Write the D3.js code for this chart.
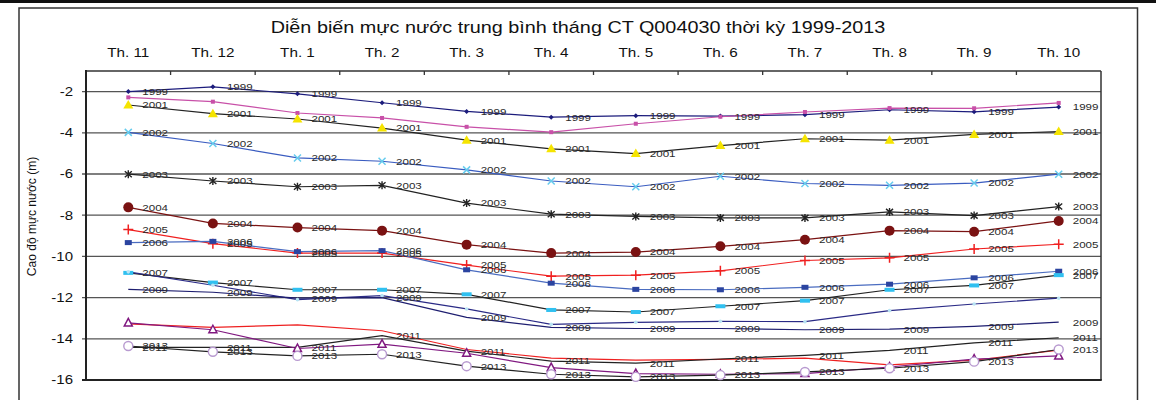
<!DOCTYPE html>
<html><head><meta charset="utf-8">
<script src="https://cdn.jsdelivr.net/npm/d3@7"></script>
<style>body{margin:0;background:#fff}svg{display:block}text{font-family:"Liberation Sans",Arial,sans-serif}</style>
</head><body><svg id="c" width="1156" height="400"></svg>
<script>
const months = ["Th. 11","Th. 12","Th. 1","Th. 2","Th. 3","Th. 4","Th. 5","Th. 6","Th. 7","Th. 8","Th. 9","Th. 10"];
const yTicks = [-2,-4,-6,-8,-10,-12,-14,-16];
const y1999 = [-2.00,-1.77,-2.11,-2.54,-2.96,-3.24,-3.17,-3.19,-3.12,-2.88,-2.98,-2.75];
const y2000 = [-2.28,-2.49,-3.04,-3.28,-3.71,-3.97,-3.56,-3.22,-2.99,-2.80,-2.81,-2.55];
const y2001 = [-2.65,-3.07,-3.33,-3.77,-4.36,-4.78,-5.01,-4.62,-4.29,-4.36,-4.08,-3.94];
const y2002 = [-3.98,-4.52,-5.22,-5.38,-5.80,-6.34,-6.62,-6.11,-6.46,-6.55,-6.44,-6.01];
const y2003 = [-6.01,-6.34,-6.62,-6.55,-7.41,-7.95,-8.06,-8.13,-8.13,-7.84,-8.02,-7.58];
const y2004 = [-7.62,-8.40,-8.60,-8.75,-9.43,-9.84,-9.79,-9.51,-9.19,-8.75,-8.80,-8.28];
const y2005 = [-8.70,-9.38,-9.84,-9.84,-10.42,-10.96,-10.91,-10.70,-10.20,-10.07,-9.64,-9.41];
const y2006 = [-9.33,-9.27,-9.77,-9.72,-10.65,-11.30,-11.60,-11.62,-11.50,-11.35,-11.04,-10.72];
const y2007 = [-10.80,-11.27,-11.62,-11.62,-11.84,-12.60,-12.70,-12.42,-12.15,-11.62,-11.41,-10.91];
const y2008 = [-10.75,-11.40,-12.10,-11.90,-12.55,-13.30,-13.20,-13.15,-13.17,-12.63,-12.31,-12.03];
const y2009 = [-11.60,-11.74,-12.03,-12.00,-12.96,-13.45,-13.50,-13.50,-13.56,-13.53,-13.40,-13.19];
const y2010 = [-13.28,-13.45,-13.32,-13.61,-14.52,-14.94,-15.04,-15.00,-14.94,-15.27,-15.04,-14.55];
const y2011 = [-14.42,-14.42,-14.42,-13.85,-14.60,-15.08,-15.18,-14.98,-14.80,-14.56,-14.20,-13.95];
const y2012 = [-13.23,-13.56,-14.47,-14.26,-14.70,-15.40,-15.69,-15.72,-15.69,-15.37,-14.99,-14.83];
const y2013 = [-14.35,-14.63,-14.83,-14.75,-15.33,-15.72,-15.85,-15.76,-15.61,-15.43,-15.11,-14.52];
const title = "Diễn biến mực nước trung bình tháng CT Q004030 thời kỳ 1999-2013";
const yTitle = "Cao độ mực nước (m)";

const series = [
  {name:"1999", values:y1999, color:"#1c1c7c", marker:"diamond", mfill:"#1c1c7c", label:true},
  {name:"2000", values:y2000, color:"#c850a8", marker:"square", mfill:"#c850a8", label:false},
  {name:"2001", values:y2001, color:"#222", marker:"triangle", mfill:"#f5e400", label:true},
  {name:"2002", values:y2002, color:"#3a5cc0", marker:"x", mfill:"#66ccee", label:true},
  {name:"2003", values:y2003, color:"#222", marker:"star", mfill:"#222", label:true},
  {name:"2004", values:y2004, color:"#7a1212", marker:"circle", mfill:"#7a1212", label:true},
  {name:"2005", values:y2005, color:"#f02020", marker:"plus", mfill:"#f02020", label:true},
  {name:"2006", values:y2006, color:"#4a6cc0", marker:"smallsq", mfill:"#2b44a0", label:true},
  {name:"2007", values:y2007, color:"#222", marker:"dash", mfill:"#30c0f0", label:true},
  {name:"2008", values:y2008, color:"#2a2a86", marker:"dot", mfill:"#b8e4f4", label:false},
  {name:"2009", values:y2009, color:"#1e1e70", marker:"none", label:true},
  {name:"2010", values:y2010, color:"#ee2020", marker:"none", label:false},
  {name:"2011", values:y2011, color:"#222", marker:"none", label:true},
  {name:"2012", values:y2012, color:"#801880", marker:"otri", mfill:"#801880", label:false},
  {name:"2013", values:y2013, color:"#222", marker:"ocircle", mfill:"#b89ad0", label:true}
];

const svg = d3.select("#c");
const W = 1156, H = 400;
const L = 86, R = 1101, T = 71, B = 380;
const SX = 1.27;

svg.append("rect").attr("width",W).attr("height",H).attr("fill","#fff");
svg.append("rect").attr("x",0).attr("y",0).attr("width",W).attr("height",3).attr("fill","#111");
svg.append("rect").attr("x",19).attr("y",8).attr("width",1118.5).attr("height",420)
  .attr("fill","none").attr("stroke","#333").attr("stroke-width",1.5);

const x = d3.scaleBand().domain(months).range([L,R]).padding(0);
const y = d3.scaleLinear().domain([-16,-1]).range([B,T]);

// gridlines
svg.append("g").selectAll("line").data(yTicks.filter(v=>v>-16)).join("line")
  .attr("x1",L-4).attr("x2",R).attr("y1",d=>y(d)).attr("y2",d=>y(d))
  .attr("stroke","#555").attr("stroke-width",1.3);

// plot frame
svg.append("line").attr("x1",L).attr("x2",R).attr("y1",T).attr("y2",T).attr("stroke","#333").attr("stroke-width",1.5);
svg.append("line").attr("x1",R).attr("x2",R).attr("y1",T).attr("y2",B).attr("stroke","#333").attr("stroke-width",1.5);
svg.append("line").attr("x1",L).attr("x2",L).attr("y1",T-1).attr("y2",B+1).attr("stroke","#222").attr("stroke-width",2);
svg.append("line").attr("x1",L-4).attr("x2",R+0.75).attr("y1",B).attr("y2",B).attr("stroke","#222").attr("stroke-width",2);

// top axis ticks at band boundaries
const bounds = months.slice(1).map(m=>x(m));
svg.append("g").selectAll("line").data(bounds).join("line")
  .attr("x1",d=>d).attr("x2",d=>d).attr("y1",T).attr("y2",T+4)
  .attr("stroke","#333").attr("stroke-width",1.3);

function stretchedText(parent, tx, ty, str, size, anchor, sx, fill){
  const g = parent.append("g").attr("transform",`translate(${tx},${ty}) scale(${sx},1)`);
  return g.append("text").attr("x",0).attr("y",0).attr("text-anchor",anchor)
    .attr("font-size",size).attr("fill",fill||"#111").text(str);
}

// title
const tg = svg.append("g");
const tt = stretchedText(tg, 578, 33, title, 16, "middle", 1, "#111");
const tw = tt.node().getComputedTextLength();
tt.node().parentNode.setAttribute("transform",`translate(578,33) scale(${615/tw},1)`);

// month labels
months.forEach(m=>stretchedText(svg, x(m)+x.bandwidth()/2, 57, m, 12, "middle", SX, "#111"));

// y tick labels
yTicks.forEach(v=>stretchedText(svg, 73, y(v)+4.3, String(v), 12, "end", 1.25, "#111"));

// y title
svg.append("text").attr("transform",`translate(36,216.5) rotate(-90)`)
  .attr("text-anchor","middle").attr("font-size",12).attr("fill","#111").text(yTitle);

const cx = i => x(months[i]) + x.bandwidth()/2;
const line = d3.line().x((d,i)=>cx(i)).y(d=>y(d));

// lines
series.forEach(s=>{
  svg.append("path").attr("d",line(s.values)).attr("fill","none")
    .attr("stroke",s.color).attr("stroke-width",1.2);
});

// markers
function drawMarker(g, s, px, py){
  const c = s.mfill;
  switch(s.marker){
    case "diamond": g.append("path").attr("d",`M${px},${py-2.5}L${px+2.5},${py}L${px},${py+2.5}L${px-2.5},${py}Z`).attr("fill",c); break;
    case "square": g.append("rect").attr("x",px-2).attr("y",py-2).attr("width",4).attr("height",4).attr("fill",c); break;
    case "triangle": g.append("path").attr("d",`M${px},${py-5}L${px+5},${py+3.5}L${px-5},${py+3.5}Z`).attr("fill",c); break;
    case "x": g.append("path").attr("d",`M${px-3.5},${py-3.5}L${px+3.5},${py+3.5}M${px-3.5},${py+3.5}L${px+3.5},${py-3.5}`).attr("stroke",c).attr("stroke-width",1.5); break;
    case "star": g.append("path").attr("d",`M${px-3.5},${py-3}L${px+3.5},${py+3}M${px-3.5},${py+3}L${px+3.5},${py-3}M${px},${py-4}L${px},${py+4}`).attr("stroke",c).attr("stroke-width",1.4); break;
    case "circle": g.append("circle").attr("cx",px).attr("cy",py).attr("r",5).attr("fill",c); break;
    case "plus": g.append("path").attr("d",`M${px-5},${py}L${px+5},${py}M${px},${py-5}L${px},${py+5}`).attr("stroke",c).attr("stroke-width",1.5); break;
    case "smallsq": g.append("rect").attr("x",px-3.5).attr("y",py-2.5).attr("width",7).attr("height",5).attr("fill",c); break;
    case "dash": g.append("rect").attr("x",px-5).attr("y",py-2).attr("width",10).attr("height",4).attr("fill",c); break;
    case "dot": g.append("circle").attr("cx",px).attr("cy",py).attr("r",1.8).attr("fill",c); break;
    case "otri": g.append("path").attr("d",`M${px},${py-4.5}L${px+4},${py+3}L${px-4},${py+3}Z`).attr("fill","#fff").attr("stroke",c).attr("stroke-width",1.5); break;
    case "ocircle": g.append("circle").attr("cx",px).attr("cy",py).attr("r",4.5).attr("fill","#fff").attr("stroke",c).attr("stroke-width",1.4); break;
  }
}
const mg = svg.append("g");
series.forEach(s=>{
  if(s.marker==="none") return;
  s.values.forEach((v,i)=>drawMarker(mg, s, cx(i), y(v)));
});

// data labels
const lg = svg.append("g");
series.filter(s=>s.label).forEach(s=>{
  s.values.forEach((v,i)=>{
    stretchedText(lg, cx(i)+14, y(v)+3.4, s.name, 9.5, "start", 1.22, "#2a2a2a");
  });
});
</script></body></html>
